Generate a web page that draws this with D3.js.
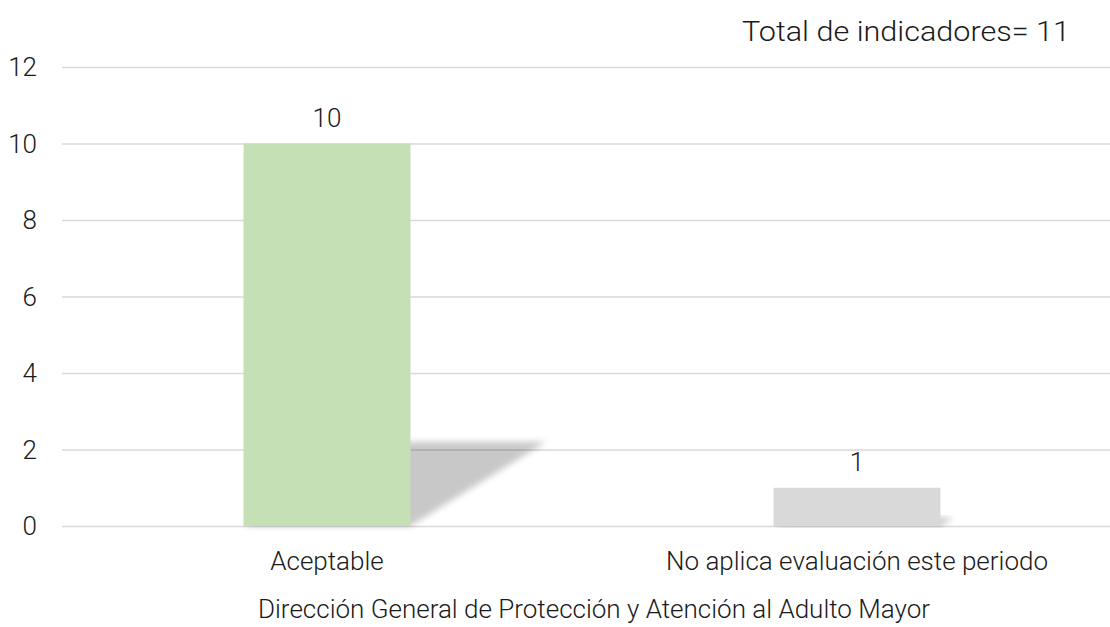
<!DOCTYPE html>
<html>
<head>
<meta charset="utf-8">
<script src="https://cdn.jsdelivr.net/npm/d3@7"></script>
<style>
  body { margin: 0; background: white; }
  text { font-family: Roboto, "Liberation Sans", sans-serif; font-weight: 300; fill: #1a1a1a; }
</style>
</head>
<body>
<svg id="plot"></svg>
<script>
// Data
const categories = ["Aceptable", "No aplica evaluación este periodo"];
const values = [10, 1];
const barColors = ["#c5e0b4", "#d9d9d9"];
const yTicks = [0, 2, 4, 6, 8, 10, 12];
const totalLabel = "Total de indicadores= 11";
const axisTitle = "Dirección General de Protección y Atención al Adulto Mayor";

let width = 1110, height = 627;
let margin = { top: 67, bottom: 101, left: 62, right: -12 };

let svg = d3.select('#plot')
  .attr('width', width)
  .attr('height', height)
  .style('background', 'white');

let defs = svg.append('defs');
defs.append('filter')
  .attr('id', 'blur')
  .attr('x', '-20%').attr('y', '-20%')
  .attr('width', '140%').attr('height', '140%')
  .append('feGaussianBlur')
  .attr('stdDeviation', 3);

let yScale = d3.scaleLinear()
  .domain([0, 12])
  .range([height - margin.bottom, margin.top]);

let xScale = d3.scaleBand()
  .domain(categories)
  .range([margin.left, width - margin.right])
  .paddingInner(0.685)
  .paddingOuter(0.3425);

// gridlines
let grid = svg.append('g')
  .attr('transform', `translate(${margin.left}, 0)`)
  .call(d3.axisLeft(yScale).tickValues(yTicks).tickSize(-(width - margin.left)).tickFormat(''));
grid.select('.domain').remove();
grid.selectAll('line').attr('stroke', '#d9d9d9').attr('stroke-width', 1.3);

// tick labels
let yAxis = svg.append('g')
  .attr('transform', `translate(${margin.left - 25}, 0)`)
  .call(d3.axisLeft(yScale).tickValues(yTicks).tickSize(0).tickPadding(0));
yAxis.select('.domain').remove();
yAxis.selectAll('text')
  .style('font-size', '26px')
  .attr('dy', '0.34em')
  .attr('fill', '#1a1a1a');

// perspective shadows
let y0 = yScale(0);
svg.append('g')
  .selectAll('path')
  .data(values)
  .enter()
  .append('path')
  .attr('d', (d, i) => {
    let x0 = xScale(categories[i]);
    let x1 = x0 + xScale.bandwidth();
    let h = y0 - yScale(d);
    let dx = h * 0.355, dy = h * 0.22;
    return `M${x0},${y0} L${x0 + dx},${y0 - dy} L${x1 + dx},${y0 - dy} L${x1},${y0} Z`;
  })
  .attr('fill', 'black')
  .attr('opacity', 0.21)
  .attr('filter', 'url(#blur)');

// bars
svg.append('g')
  .selectAll('rect')
  .data(values)
  .enter()
  .append('rect')
  .attr('x', (d, i) => xScale(categories[i]))
  .attr('y', d => yScale(d))
  .attr('width', xScale.bandwidth())
  .attr('height', d => y0 - yScale(d))
  .attr('fill', (d, i) => barColors[i]);

// value labels
svg.append('g')
  .selectAll('text')
  .data(values)
  .enter()
  .append('text')
  .attr('x', (d, i) => xScale(categories[i]) + xScale.bandwidth() / 2)
  .attr('y', d => yScale(d) - 17)
  .attr('text-anchor', 'middle')
  .style('font-size', '26px')
  .text(d => d);

// category labels
svg.append('g')
  .selectAll('text')
  .data(categories)
  .enter()
  .append('text')
  .attr('x', d => xScale(d) + xScale.bandwidth() / 2)
  .attr('y', 570)
  .attr('text-anchor', 'middle')
  .style('font-size', '26px')
  .text(d => d);

// axis title
svg.append('text')
  .attr('x', 594)
  .attr('y', 618)
  .attr('text-anchor', 'middle')
  .style('font-size', '26px')
  .text(axisTitle);

// total label
svg.append('text')
  .attr('x', 1070)
  .attr('y', 41)
  .attr('text-anchor', 'end')
  .style('font-size', '28px')
  .attr('textLength', 328)
  .attr('lengthAdjust', 'spacingAndGlyphs')
  .text(totalLabel);
</script>
</body>
</html>
